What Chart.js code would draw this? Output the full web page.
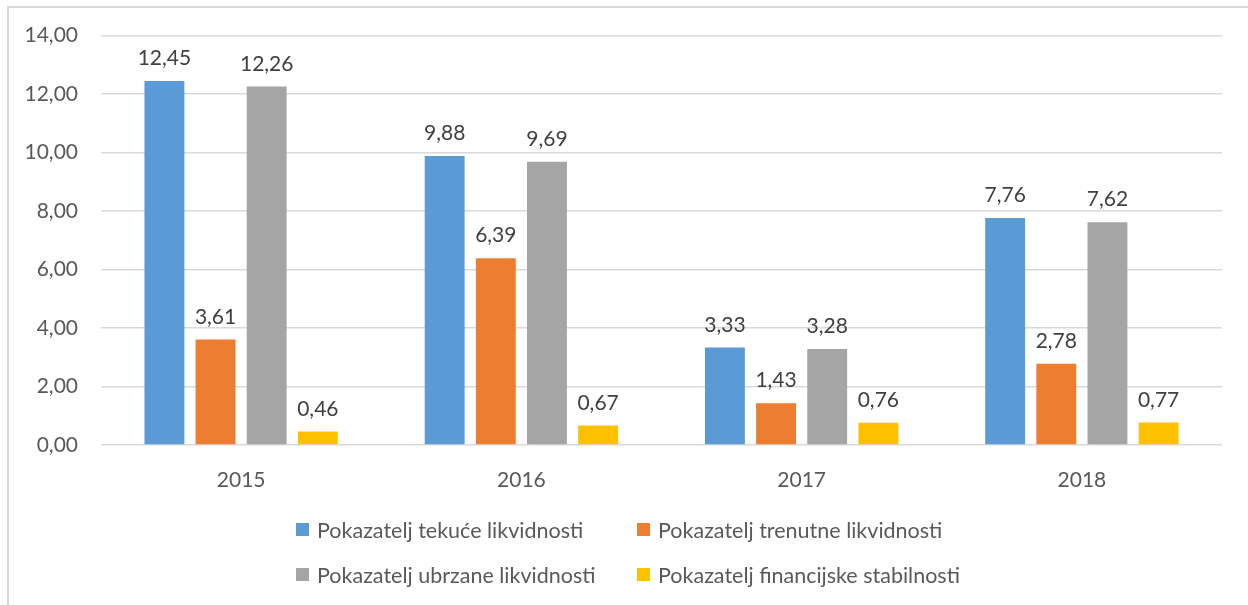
<!DOCTYPE html>
<html>
<head>
<meta charset="utf-8">
<script src="https://cdn.jsdelivr.net/npm/chart.js@4"></script>
<style>
    html, body { margin: 0; padding: 0; background: #fff; }
    #wrap { position: relative; width: 1248px; height: 605px; overflow: hidden; }
    #frame {
        position: absolute; left: 7px; top: 6px; width: 1300px; height: 700px;
        border-left: 2px solid #d9d9d9; border-top: 2px solid #d9d9d9;
    }
    #chart { position: absolute; left: 0; top: 0; }
    #legend {
        position: absolute; left: 296px; top: 507px;
        display: grid; grid-template-columns: 341px 341px; grid-auto-rows: 45px;
        font-family: Lato, sans-serif; font-size: 21.5px; color: #595959;
    }
    .item { display: flex; align-items: center; white-space: nowrap; }
    .box { width: 13px; height: 13px; margin-right: 8px; flex: none; }
</style>
</head>
<body>
<div id="wrap">
    <div id="frame"></div>
    <canvas id="chart" width="1248" height="605"></canvas>
    <div id="legend"></div>
</div>
<script>
    // categories and series
    const years = ['2015', '2016', '2017', '2018'];
    const tekuce = [12.45, 9.88, 3.33, 7.76];
    const trenutne = [3.61, 6.39, 1.43, 2.78];
    const ubrzane = [12.26, 9.69, 3.28, 7.62];
    const stabilnost = [0.46, 0.67, 0.76, 0.77];

    const names = [
        'Pokazatelj tekuće likvidnosti',
        'Pokazatelj trenutne likvidnosti',
        'Pokazatelj ubrzane likvidnosti',
        'Pokazatelj financijske stabilnosti'
    ];
    const colors = ['#5b9bd5', '#ed7d31', '#a5a5a5', '#ffc000'];

    const fmt = v => Number(v).toFixed(2).replace('.', ',');

    // value labels above the bars
    const barLabels = {
        id: 'barLabels',
        afterDatasetsDraw(chart) {
            const ctx = chart.ctx;
            ctx.save();
            ctx.font = '21px Lato, sans-serif';
            ctx.fillStyle = '#404040';
            ctx.textAlign = 'center';
            ctx.textBaseline = 'bottom';
            chart.data.datasets.forEach((ds, i) => {
                chart.getDatasetMeta(i).data.forEach((bar, j) => {
                    ctx.fillText(fmt(ds.data[j]), bar.x, bar.y - 12);
                });
            });
            ctx.restore();
        }
    };

    const seriesData = [tekuce, trenutne, ubrzane, stabilnost];

    const chart = new Chart(document.getElementById('chart'), {
        type: 'bar',
        data: {
            labels: years,
            datasets: seriesData.map((d, i) => ({
                label: names[i],
                data: d,
                backgroundColor: colors[i],
                categoryPercentage: 0.73,
                barPercentage: 0.78
            }))
        },
        options: {
            responsive: false,
            animation: false,
            layout: { padding: { left: 0, top: 35, right: 26, bottom: 0 } },
            plugins: { legend: { display: false }, tooltip: { enabled: false } },
            scales: {
                x: {
                    grid: { display: false },
                    border: { display: false },
                    ticks: { color: '#595959', font: { family: 'Lato', size: 21 }, padding: 15 },
                    afterFit: s => { s.height = 160; }
                },
                y: {
                    min: 0,
                    max: 14,
                    border: { display: false },
                    grid: { color: '#d9d9d9', lineWidth: 1.5, drawTicks: false },
                    ticks: {
                        stepSize: 2,
                        color: '#595959',
                        font: { family: 'Lato', size: 21 },
                        padding: 23,
                        callback: v => fmt(v)
                    },
                    afterFit: s => { s.width = 101; }
                }
            }
        },
        plugins: [barLabels]
    });

    // legend in two columns
    const legend = document.getElementById('legend');
    chart.data.datasets.forEach(ds => {
        const item = document.createElement('div');
        item.className = 'item';
        const box = document.createElement('span');
        box.className = 'box';
        box.style.background = ds.backgroundColor;
        const txt = document.createElement('span');
        txt.textContent = ds.label;
        item.appendChild(box);
        item.appendChild(txt);
        legend.appendChild(item);
    });
</script>
</body>
</html>
